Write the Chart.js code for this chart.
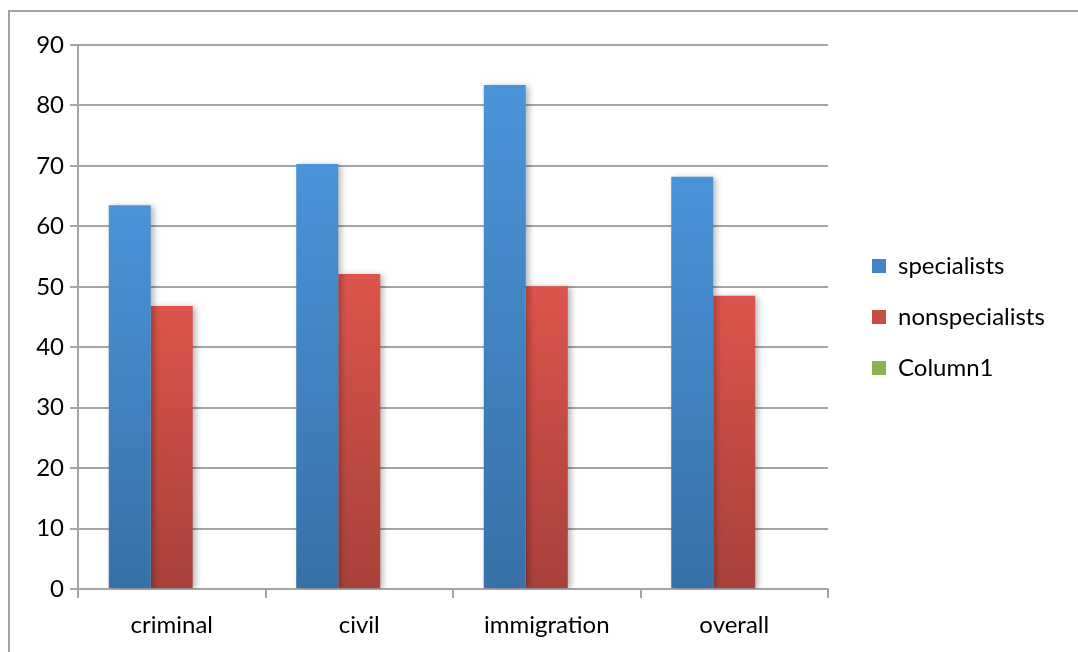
<!DOCTYPE html>
<html lang="en">
<head>
<meta charset="utf-8">
<title>Specialists vs nonspecialists</title>
<script src="https://cdn.jsdelivr.net/npm/chart.js"></script>
<style>
  html, body { margin: 0; padding: 0; background: #fff; }
  #wrap { position: relative; width: 1078px; height: 652px; }
</style>
</head>
<body>
<div id="wrap"><canvas id="barChart"></canvas></div>
<script>
// data
var categories = ['criminal', 'civil', 'immigration', 'overall'];
var specialists = [63.5, 70.3, 83.4, 68.2];
var nonspecialists = [46.8, 52.1, 50.1, 48.5];
var column1 = [null, null, null, null];
var yMin = 0, yMax = 90, yStep = 10;

var FONT = 'Lato, "Open Sans", sans-serif';
var FONT_SIZE = 24;
var GRID = '#a5a5a5';
var LEGEND_WIDTH = 210;

// vertical gradient per bar, light at the top, darker at the base
function barFill(top, bottom) {
  return function(ctx) {
    var chart = ctx.chart;
    if (!chart.chartArea || ctx.raw == null) return top;
    var y = chart.scales.y;
    var g = chart.ctx.createLinearGradient(0, y.getPixelForValue(ctx.raw), 0, y.getPixelForValue(0));
    g.addColorStop(0, top);
    g.addColorStop(1, bottom);
    return g;
  };
}

var legendColors = ['#4284c6', '#c94b43', '#8fb04f'];

// outer frame line
var frame = {
  id: 'frame',
  beforeDraw: function(chart) {
    var c = chart.ctx;
    c.save();
    c.strokeStyle = '#a3a3a3';
    c.lineWidth = 2;
    c.beginPath();
    c.moveTo(9, chart.height);
    c.lineTo(9, 11);
    c.lineTo(chart.width, 11);
    c.stroke();
    c.restore();
  }
};

// soft drop shadow behind the bars
var barShadow = {
  id: 'barShadow',
  beforeDatasetsDraw: function(chart) {
    var c = chart.ctx;
    c.save();
    c.shadowColor = 'rgba(0,0,0,0.28)';
    c.shadowBlur = 6;
    c.shadowOffsetX = 3;
    c.shadowOffsetY = 1;
  },
  afterDatasetsDraw: function(chart) {
    chart.ctx.restore();
  }
};

// the legend box would be capped to a narrow width, give it a fixed one
var legendWidth = {
  id: 'legendWidth',
  afterInit: function(chart) {
    var lg = chart.legend;
    var fit = lg.fit;
    lg.fit = function() {
      fit.apply(this, arguments);
      this.width = LEGEND_WIDTH;
    };
  }
};

var chartdata = {
  labels: categories,
  datasets: [
    { label: 'specialists', data: specialists, backgroundColor: barFill('#4a94d9', '#3870a8') },
    { label: 'nonspecialists', data: nonspecialists, backgroundColor: barFill('#dc544b', '#a8413a') },
    { label: 'Column1', data: column1, backgroundColor: barFill('#a4c65e', '#7f9a48') }
  ]
};

var config = {
  type: 'bar',
  data: chartdata,
  options: {
    responsive: false,
    animation: false,
    layout: { padding: { top: 45, left: 0, right: 23, bottom: 0 } },
    datasets: { bar: { barPercentage: 1, categoryPercentage: 0.672 } },
    plugins: {
      tooltip: { enabled: false },
      legend: {
        position: 'right',
        fullSize: false,
        labels: {
          boxWidth: 14,
          boxHeight: 14,
          padding: 27,
          color: '#000',
          font: { family: FONT, size: FONT_SIZE },
          generateLabels: function(chart) {
            return chart.data.datasets.map(function(ds, i) {
              return { text: ds.label, fillStyle: legendColors[i], strokeStyle: legendColors[i], lineWidth: 0, datasetIndex: i };
            });
          }
        }
      }
    },
    scales: {
      x: {
        grid: { offset: true, drawOnChartArea: false, drawTicks: true, tickLength: 9, color: GRID, lineWidth: 2 },
        border: { color: GRID, width: 2 },
        ticks: { color: '#000', padding: 13, font: { family: FONT, size: FONT_SIZE } },
        afterFit: function(s) { s.height = 63; }
      },
      y: {
        min: yMin,
        max: yMax,
        grid: { color: GRID, lineWidth: 2, tickLength: 8 },
        border: { color: GRID, width: 2 },
        ticks: { stepSize: yStep, color: '#000', padding: 6, font: { family: FONT, size: FONT_SIZE } },
        afterFit: function(s) { s.width = 78; }
      },
      gap: {
        position: 'right',
        display: true,
        grid: { display: false },
        border: { display: false },
        ticks: { display: false },
        afterFit: function(s) { s.width = 17; }
      }
    }
  },
  plugins: [frame, barShadow, legendWidth]
};

var canvas = document.getElementById('barChart');
canvas.width = 1078;
canvas.height = 652;
var barChart = new Chart(canvas, config);
</script>
</body>
</html>
